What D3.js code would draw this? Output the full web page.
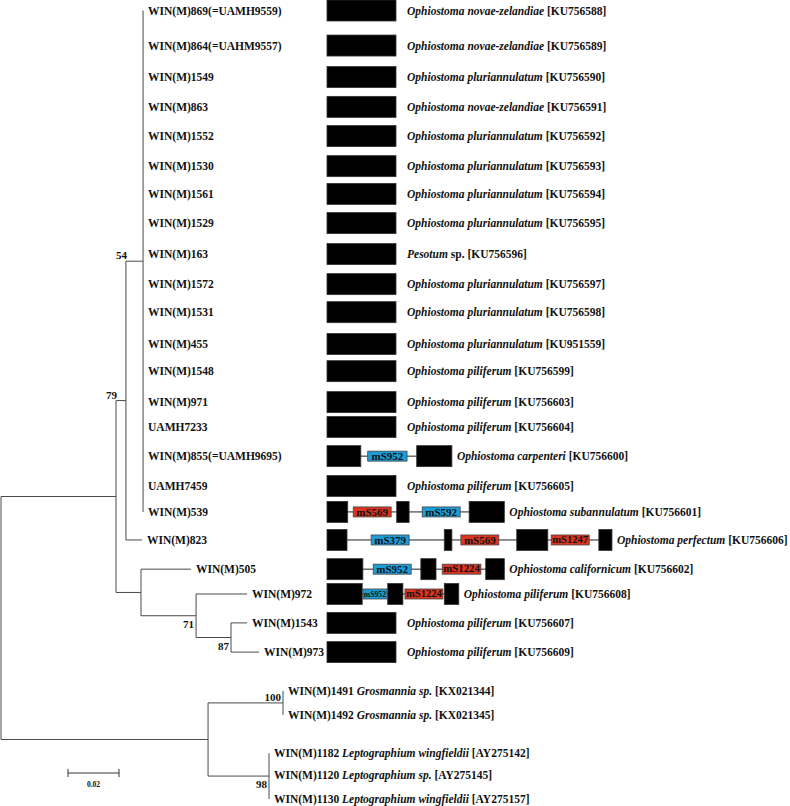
<!DOCTYPE html>
<html>
<head>
<meta charset="utf-8">
<script src="https://cdn.jsdelivr.net/npm/d3@7"></script>
<style>
  body { margin: 0; background: #fff; }
  text { font-family: "Liberation Serif", "Times New Roman", serif; font-weight: bold; fill: #111; }
</style>
</head>
<body>
<script>
// ---- data ---------------------------------------------------------------
const taxa = ["WIN(M)869(=UAMH9559)", "WIN(M)864(=UAHM9557)", "WIN(M)1549", "WIN(M)863", "WIN(M)1552",
  "WIN(M)1530", "WIN(M)1561", "WIN(M)1529", "WIN(M)163", "WIN(M)1572", "WIN(M)1531", "WIN(M)455",
  "WIN(M)1548", "WIN(M)971", "UAMH7233", "WIN(M)855(=UAMH9695)", "UAMH7459", "WIN(M)539", "WIN(M)823",
  "WIN(M)505", "WIN(M)972", "WIN(M)1543", "WIN(M)973", "WIN(M)1491", "WIN(M)1492", "WIN(M)1182",
  "WIN(M)1120", "WIN(M)1130"];

// vertical row of each taxon (rows are not evenly spaced in the figure)
const taxonRow = [0, 1.2, 2.28, 3.3, 4.3, 5.33, 6.28, 7.28, 8.34, 9.37, 10.33, 11.42, 12.35, 13.41, 14.26,
  15.26, 16.28, 17.17, 18.13, 19.13, 19.98, 20.97, 21.97, 23.3, 24.12, 25.43, 26.18, 27];

// species name (italic part | upright part) and accession
const species = ["Ophiostoma novae-zelandiae", "Ophiostoma novae-zelandiae", "Ophiostoma pluriannulatum",
  "Ophiostoma novae-zelandiae", "Ophiostoma pluriannulatum", "Ophiostoma pluriannulatum",
  "Ophiostoma pluriannulatum", "Ophiostoma pluriannulatum", "Pesotum| sp.", "Ophiostoma pluriannulatum",
  "Ophiostoma pluriannulatum", "Ophiostoma pluriannulatum", "Ophiostoma piliferum", "Ophiostoma piliferum",
  "Ophiostoma piliferum", "Ophiostoma carpenteri", "Ophiostoma piliferum", "Ophiostoma subannulatum",
  "Ophiostoma perfectum", "Ophiostoma californicum", "Ophiostoma piliferum", "Ophiostoma piliferum",
  "Ophiostoma piliferum", "Grosmannia sp.", "Grosmannia sp.", "Leptographium wingfieldii",
  "Leptographium sp.", "Leptographium wingfieldii"];
const accessions = ["KU756588", "KU756589", "KU756590", "KU756591", "KU756592", "KU756593", "KU756594",
  "KU756595", "KU756596", "KU756597", "KU756598", "KU951559", "KU756599", "KU756603", "KU756604",
  "KU756600", "KU756605", "KU756601", "KU756606", "KU756602", "KU756608", "KU756607", "KU756609",
  "KX021344", "KX021345", "AY275142", "AY275145", "AY275157"];

// tree: [node, parent, branch length]
const edges = [
  ["N79", "root", 0.0451], ["N54", "N79", 0.0039], ["A", "N54", 0.0067],
  ...taxa.slice(0, 18).map(t => [t, "A", 0]),
  ["WIN(M)823", "N54", 0.0063],
  ["N141", "N79", 0.0098], ["WIN(M)505", "N141", 0.0196], ["N71", "N141", 0.0216],
  ["WIN(M)972", "N71", 0.0200], ["N87", "N71", 0.0137],
  ["WIN(M)1543", "N87", 0.0063], ["WIN(M)973", "N87", 0.0110],
  ["NOut", "root", 0.0812], ["N100", "NOut", 0.0294],
  ["WIN(M)1491", "N100", 0], ["WIN(M)1492", "N100", 0],
  ["N98", "NOut", 0.0239],
  ["WIN(M)1182", "N98", 0], ["WIN(M)1120", "N98", 0], ["WIN(M)1130", "N98", 0]
];

// bootstrap support: clade, value, drawn at node or at branch base, above / below
const support = [
  ["A", 54, "base", "above"], ["N54", 79, "base", "above"], ["N71", 71, "node", "below"],
  ["N87", 87, "node", "below"], ["N100", 100, "node", "above"], ["N98", 98, "node", "below"]
];

// gene models: [kind, start, end, intron name]; a full exon = 100 units
const plainModel = [["exon", 0, 100]];
const geneModels = {
  "WIN(M)855(=UAMH9695)": [["exon", 0, 49], ["blue", 59, 116, "mS952"], ["exon", 130, 181]],
  "WIN(M)539": [["exon", 0, 30], ["red", 38, 93, "mS569"], ["exon", 101, 119], ["blue", 138, 193, "mS592"], ["exon", 206, 257]],
  "WIN(M)823": [["exon", 0, 29], ["blue", 64, 119, "mS379"], ["exon", 170, 181], ["red", 194, 249, "mS569"],
    ["exon", 275, 320], ["red", 325, 380, "mS1247"], ["exon", 394, 413]],
  "WIN(M)505": [["exon", 0, 52], ["blue", 67, 122, "mS952"], ["exon", 136, 158], ["red", 167, 223, "mS1224"], ["exon", 230, 257]],
  "WIN(M)972": [["exon", 0, 51], ["blue", 52, 87, "mS952"], ["exon", 88, 110], ["red", 113, 168, "mS1224"], ["exon", 170, 191]]
};
const diagramCount = 23;   // taxa with a gene diagram
const scaleBarValue = 0.02;

// ---- drawing ---------------------------------------------------------------
const width = 790, height = 806;
const svg = d3.select("body").append("svg").attr("width", width).attr("height", height);

const y = d3.scaleLinear().domain([0, 27]).range([10.5, 799]);
const x = d3.scaleLinear().domain([0, 0.1]).range([1, 256]);
const gx = d3.scaleLinear().domain([0, 100]).range([327, 396]);
const kindFill = { exon: "#000", blue: "#1c9dd8", red: "#dc3420" };

const root = d3.stratify().id(d => d[0]).parentId(d => d[1])([["root", null, 0], ...edges]);

// x from cumulative branch length, y from rows / midpoints
root.eachBefore(n => { n.dist = n.parent ? n.parent.dist + n.data[2] : 0; n.x = x(n.dist); });
root.eachAfter(n => {
  if (!n.children) n.y = y(taxonRow[taxa.indexOf(n.id)]);
  else {
    const ys = n.children.map(c => c.y);
    n.y = (d3.min(ys) + d3.max(ys)) / 2;
  }
});
const nodeById = new Map(root.descendants().map(n => [n.id, n]));

const tree = svg.append("g").attr("stroke", "#4a4a4a").attr("stroke-width", 1).attr("fill", "none");

// horizontal branches
tree.selectAll("line.h")
  .data(root.descendants().filter(n => n.parent && n.x > n.parent.x))
  .join("line").attr("class", "h")
    .attr("x1", d => d.parent.x).attr("x2", d => d.x)
    .attr("y1", d => d.y).attr("y2", d => d.y);

// vertical connectors
tree.selectAll("line.v")
  .data(root.descendants().filter(n => n.children))
  .join("line").attr("class", "v")
    .attr("x1", d => d.x).attr("x2", d => d.x)
    .attr("y1", d => d3.min(d.children, c => c.y))
    .attr("y2", d => d3.max(d.children, c => c.y));

// leaf labels
const leafLabel = svg.append("g").attr("font-size", "11.5px")
  .selectAll("text")
  .data(root.leaves())
  .join("text")
    .attr("x", d => d.x + 5)
    .attr("y", d => d.y + 4);

leafLabel.each(function(d) {
  const i = taxa.indexOf(d.id);
  const t = d3.select(this);
  t.append("tspan").text(d.id);
  if (i >= diagramCount) {
    t.append("tspan").text(" ");
    t.append("tspan").attr("font-style", "italic").text(species[i]);
    t.append("tspan").text(" [" + accessions[i] + "]");
  }
});

// bootstrap values
svg.append("g").attr("font-size", "11px").attr("text-anchor", "end")
  .selectAll("text")
  .data(support)
  .join("text")
    .attr("x", d => {
      const n = nodeById.get(d[0]);
      return d[2] === "base" ? n.parent.x + 1 : n.x - 2;
    })
    .attr("y", d => nodeById.get(d[0]).y + (d[3] === "above" ? -2 : 12))
    .text(d => d[1]);

// gene diagrams
const rows = svg.append("g").selectAll("g")
  .data(taxa.slice(0, diagramCount))
  .join("g")
    .attr("transform", d => `translate(0,${y(taxonRow[taxa.indexOf(d)])})`);

rows.each(function(name) {
  const i = taxa.indexOf(name);
  const g = d3.select(this);
  const model = geneModels[name] || plainModel;
  const x0 = gx(model[0][1]), x1 = gx(model[model.length - 1][2]);

  if (model.length > 1)
    g.append("line").attr("x1", x0).attr("x2", x1).attr("y1", 0).attr("y2", 0)
      .attr("stroke", "#222").attr("stroke-width", 1);

  model.forEach(seg => {
    const isExon = seg[0] === "exon";
    const h = isExon ? 21 : 10;
    const bx = gx(seg[1]), bw = gx(seg[2]) - gx(seg[1]);
    g.append("rect")
      .attr("x", bx).attr("y", -h / 2).attr("width", bw).attr("height", h)
      .attr("fill", kindFill[seg[0]])
      .attr("stroke", isExon ? "#333" : "#444").attr("stroke-width", 0.8);
    if (!isExon) {
      const t = g.append("text")
        .attr("x", bx + bw / 2).attr("y", 4).attr("text-anchor", "middle")
        .attr("font-size", "11px").attr("fill", "#1a1a1a")
        .text(seg[3]);
      const tw = t.node().getComputedTextLength();
      if (tw > bw - 2) t.attr("font-size", (11 * (bw - 2) / tw).toFixed(1) + "px").attr("y", 3);
    }
  });

  // species label, a bit closer after split genes
  const parts = species[i].split("|");
  const lab = g.append("text").attr("x", x1 + (model.length > 1 ? 5 : 11)).attr("y", 4).attr("font-size", "11.5px");
  lab.append("tspan").attr("font-style", "italic").text(parts[0]);
  if (parts[1]) lab.append("tspan").text(parts[1]);
  lab.append("tspan").text(" [" + accessions[i] + "]");
});

// scale bar
const sbX = 68, sbY = 773, sbW = x(scaleBarValue) - x(0);
const sb = svg.append("g").attr("stroke", "#333").attr("stroke-width", 1);
sb.append("line").attr("x1", sbX).attr("x2", sbX + sbW).attr("y1", sbY).attr("y2", sbY);
sb.append("line").attr("x1", sbX).attr("x2", sbX).attr("y1", sbY - 4).attr("y2", sbY + 4);
sb.append("line").attr("x1", sbX + sbW).attr("x2", sbX + sbW).attr("y1", sbY - 4).attr("y2", sbY + 4);
svg.append("text").attr("x", sbX + sbW / 2).attr("y", sbY + 14).attr("text-anchor", "middle")
  .attr("font-size", "7.5px").text(scaleBarValue);
</script>
</body>
</html>
